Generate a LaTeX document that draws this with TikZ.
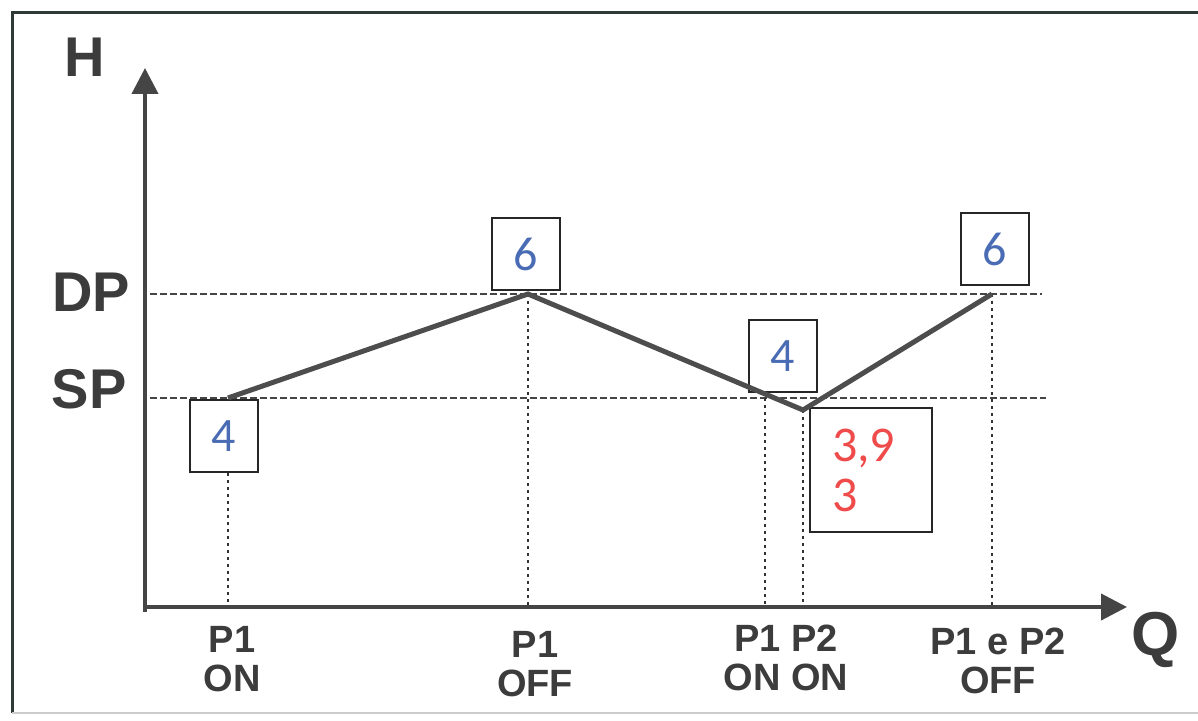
\documentclass[tikz,border=0pt]{standalone}
\usepackage{fontspec}
\setmainfont{Liberation Sans}
\newfontfamily\numfont{Carlito}
\usetikzlibrary{arrows.meta}
\definecolor{framegray}{HTML}{2F3A36}
\definecolor{axisgray}{HTML}{454545}
\definecolor{curvegray}{HTML}{4D4D4D}
\definecolor{labgray}{HTML}{3C3C3C}
\definecolor{numblue}{HTML}{4A6CB4}
\definecolor{numred}{HTML}{EF4B4B}
\begin{document}
\begin{tikzpicture}[x=0.5pt,y=-0.5pt,>={Triangle[length=13pt,width=13pt]},
  axis/.style={line width=2pt,draw=axisgray},
  curve/.style={line width=2.5pt,draw=curvegray},
  hline/.style={line width=1.2pt,draw=axisgray,dash pattern=on 3.5pt off 1.5pt},
  vline/.style={line width=1.2pt,draw=black!80,dash pattern=on 1.5pt off 2pt},
  valbox/.style={draw=black!85,line width=1pt,fill=white,minimum width=34pt,minimum height=36pt,inner sep=0pt,text=numblue,font=\numfont\fontsize{24}{25}\selectfont},
  big/.style={font=\bfseries\fontsize{28}{30}\selectfont,text=labgray},
  lab/.style={font=\bfseries\fontsize{19}{19.5}\selectfont,text=labgray,align=center}]
\useasboundingbox (0,0) rectangle (1198,721);
% frame
\draw[line width=1.5pt,draw=framegray] (1200,13)--(12,13)--(12,713);
\draw[line width=1pt,draw=black!20] (12,713)--(1200,713);
% points of the curve
\coordinate (O) at (145,607);
\coordinate (c1) at (228,398);
\coordinate (c2) at (528,294);
\coordinate (c3) at (803,410);
\coordinate (c4) at (992,294);
\coordinate (s1) at (765,398);
% levels
\draw[hline] (150,294)--(1042,294);
\draw[hline] (150,398)--(1046,398);
% boxes
\node[valbox] (b1) at (223.5,436) {4};
\node[valbox] (b2) at (526,254) {6};
\node[valbox] (b3) at (782.5,356) {4};
\node[valbox] (b4) at (994.5,249.5) {6};
\node[valbox,text=numred,font=\numfont\fontsize{25}{25}\selectfont,minimum width=61pt,minimum height=62pt,inner xsep=11pt,text width=39pt,align=left] (b5) at (871,470) {3,9\\3};
% verticals down to Q
\draw[vline] (c1|-b1.south)--(c1|-O);
\draw[vline] (c2)--(c2|-O);
\draw[vline] (s1)--(s1|-O);
\draw[vline] (c3)--(c3|-O);
\draw[vline] (c4)--(c4|-O);
% curve
\draw[curve] (c1)--(c2)--(c3)--(c4);
% axes
\draw[axis,->] (145,612)--(145,68);
\draw[axis,->] (O)--(1127,607);
\node[big] (H) at (85,57) {H};
\node[big] (DP) at (91,292) {DP};
\node[big] (SP) at (89,389) {SP};
\node[big,font=\bfseries\fontsize{31}{32}\selectfont] (Q) at (1156,640) {Q};
\node[lab] (l1) at (232,659) {P1\\ON};
\node[lab] (l2) at (535,664) {P1\\OFF};
\node[lab] (l3) at (786,658) {P1 P2\\ON ON};
\node[lab] (l4) at (998,661) {P1 e P2\\OFF};
\end{tikzpicture}
\end{document}
